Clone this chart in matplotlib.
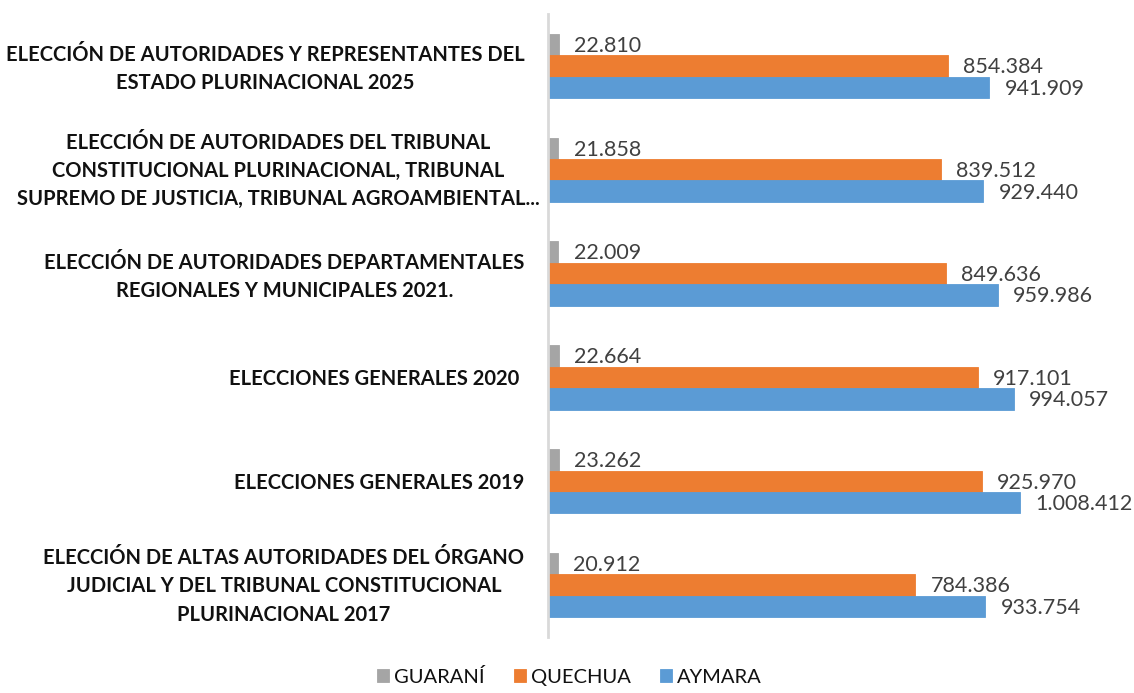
import matplotlib
matplotlib.use("Agg")
import matplotlib.pyplot as plt
import matplotlib.transforms as mtransforms
import numpy as np

# categories listed bottom -> top
categorias = [
    "ELECCIÓN DE ALTAS AUTORIDADES DEL ÓRGANO\nJUDICIAL Y DEL TRIBUNAL CONSTITUCIONAL\nPLURINACIONAL 2017",
    "ELECCIONES GENERALES 2019",
    "ELECCIONES GENERALES 2020 ",
    "ELECCIÓN DE AUTORIDADES DEPARTAMENTALES\nREGIONALES Y MUNICIPALES 2021.",
    "ELECCIÓN DE AUTORIDADES DEL TRIBUNAL\nCONSTITUCIONAL PLURINACIONAL, TRIBUNAL\nSUPREMO DE JUSTICIA, TRIBUNAL AGROAMBIENTAL...",
    "ELECCIÓN DE AUTORIDADES Y REPRESENTANTES DEL\nESTADO PLURINACIONAL 2025",
]
guarani = [20912, 23262, 22664, 22009, 21858, 22810]
quechua = [784386, 925970, 917101, 849636, 839512, 854384]
aymara = [933754, 1008412, 994057, 959986, 929440, 941909]

series = [("GUARANÍ", guarani, "#A5A5A5"),
          ("QUECHUA", quechua, "#ED7D31"),
          ("AYMARA", aymara, "#5B9BD5")]


def fmt(v):
    # thousands separator with dots
    return f"{v:,}".replace(",", ".")


plt.rcParams['font.family'] = ['Lato', 'DejaVu Sans']

fig = plt.figure(figsize=(11.34, 6.93), dpi=100)
ax = fig.add_axes([548 / 1134, 1 - 637 / 693, (1110 - 548) / 1134, (637 - 14) / 693])

y = np.arange(len(categorias))
h = 0.207
offsets = [h, 0, -h]

for (name, vals, col), off in zip(series, offsets):
    bars = ax.barh(y + off, vals, height=h, color=col, label=name,
                   edgecolor=col, linewidth=0.6)
    for b, v in zip(bars, vals):
        ax.annotate(fmt(v), (b.get_width(), b.get_y() + b.get_height() / 2),
                    xytext=(11, -1), textcoords="offset points",
                    ha="left", va="center", fontsize=15.5, color="#404040")

ax.set_xlim(0, 1200000)
ax.set_ylim(-0.5, len(categorias) - 0.5)
ax.set_yticks(y)
ax.set_yticklabels(categorias, fontsize=14.5, fontweight="bold",
                   multialignment="center", linespacing=1.52, color="#111111")
ax.tick_params(axis="y", length=0, pad=17)
ax.set_xticks([])
for s in ["top", "right", "bottom"]:
    ax.spines[s].set_visible(False)
ax.spines["left"].set_color("#D9D9D9")
ax.spines["left"].set_linewidth(2)

# nudge multi-line labels up a little; the truncated one overflows to the right like Excel
for lab in ax.get_yticklabels():
    txt = lab.get_text()
    dx, dy = 0, 0
    if "\n" in txt:
        dy = 3 if txt.count("\n") == 1 else 5
    if txt.endswith("..."):
        dx = 15
    lab.set_transform(lab.get_transform() + mtransforms.ScaledTranslation(dx / 100, dy / 100, fig.dpi_scale_trans))

leg = fig.legend(loc="lower center", bbox_to_anchor=(0.502, -0.016), ncol=3,
                 frameon=False, fontsize=14.5, handlelength=0.6, handleheight=0.6,
                 handletextpad=0.25, columnspacing=1.45)
for t in leg.get_texts():
    t.set_color("#111111")

fig.savefig("out.png", dpi=100)
